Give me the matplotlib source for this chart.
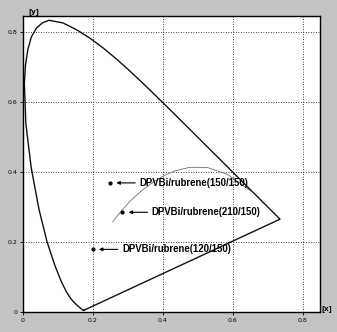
import numpy as np
import matplotlib.pyplot as plt

# CIE 1931 spectral locus (x, y), 380-700 nm (extra points around the green peak)
locus_x = [0.1741, 0.1740, 0.1738, 0.1736, 0.1733, 0.1730, 0.1726, 0.1721, 0.1714, 0.1703,
           0.1689, 0.1669, 0.1644, 0.1611, 0.1566, 0.1510, 0.1440, 0.1355, 0.1241, 0.1096,
           0.0913, 0.0687, 0.0454, 0.0235, 0.0082, 0.0039, 0.0072, 0.0139, 0.0240, 0.0389,
           0.0560, 0.0743, 0.1142,
           0.1547, 0.1929, 0.2296, 0.2658, 0.3016, 0.3373, 0.3731, 0.4087, 0.4441, 0.4788,
           0.5125, 0.5448, 0.5752, 0.6029, 0.6270, 0.6482, 0.6658, 0.6801, 0.6915, 0.7006,
           0.7079, 0.7140, 0.7190, 0.7230, 0.7260, 0.7283, 0.7300, 0.7311, 0.7320, 0.7334,
           0.7344, 0.7347]
locus_y = [0.0050, 0.0050, 0.0049, 0.0049, 0.0048, 0.0048, 0.0048, 0.0048, 0.0051, 0.0058,
           0.0069, 0.0086, 0.0109, 0.0138, 0.0177, 0.0227, 0.0297, 0.0399, 0.0578, 0.0868,
           0.1327, 0.2007, 0.2950, 0.4127, 0.5384, 0.6548, 0.7062, 0.7502, 0.7865, 0.8120,
           0.8268, 0.8338, 0.8262,
           0.8059, 0.7816, 0.7543, 0.7243, 0.6923, 0.6589, 0.6245, 0.5896, 0.5547, 0.5202,
           0.4866, 0.4544, 0.4242, 0.3965, 0.3725, 0.3514, 0.3340, 0.3197, 0.3083, 0.2993,
           0.2920, 0.2859, 0.2809, 0.2770, 0.2740, 0.2717, 0.2700, 0.2689, 0.2680, 0.2666,
           0.2656, 0.2653]

# blackbody locus, 1000 K ... 20000 K
planck_x = [0.6528, 0.5857, 0.5267, 0.4770, 0.4369, 0.4053, 0.3805, 0.3451, 0.3221,
            0.3064, 0.2952, 0.2807, 0.2637, 0.2565]
planck_y = [0.3444, 0.3931, 0.4133, 0.4137, 0.4041, 0.3907, 0.3768, 0.3516, 0.3318,
            0.3166, 0.3048, 0.2883, 0.2671, 0.2573]

# device colour coordinates
labels = ['DPVBi/rubrene(150/150)', 'DPVBi/rubrene(210/150)', 'DPVBi/rubrene(120/150)']
cie_x = [0.249, 0.284, 0.199]
cie_y = [0.369, 0.285, 0.179]

ticks = [0, 0.2, 0.4, 0.6, 0.8]
tick_labels = ['0', '0.2', '0.4', '0.6', '0.8']

fig = plt.figure(figsize=(3.37, 3.32), dpi=100, facecolor='#c4c4c4')
ax = fig.add_axes([0.0682, 0.0602, 0.8813, 0.8916])
ax.set_facecolor('white')

# closed horseshoe
ax.plot(locus_x + [locus_x[0]], locus_y + [locus_y[0]], color='#111111', lw=1.0)
ax.plot(planck_x, planck_y, color='#555555', lw=0.5)

ax.plot(cie_x, cie_y, 'o', color='black', ms=2)
for lab, x, y in zip(labels, cie_x, cie_y):
    ax.annotate('', xy=(x + 0.018, y), xytext=(x + 0.072, y),
                arrowprops=dict(arrowstyle='-|>', color='black', lw=0.8,
                                mutation_scale=5, shrinkA=0, shrinkB=0))
    ax.text(x + 0.084, y, lab, fontsize=6.9, fontweight='bold',
            family='Liberation Sans', va='center', ha='left')

ax.set_xlim(0, 0.849)
ax.set_ylim(0, 0.846)
ax.set_xticks(ticks)
ax.set_yticks(ticks)
ax.set_xticklabels(tick_labels)
ax.set_yticklabels(tick_labels)
ax.tick_params(labelsize=4.5, length=2, width=0.6, pad=2)
ax.grid(True, color='black', ls=(0, (1, 2)), lw=0.6)
for s in ax.spines.values():
    s.set_color('black')
    s.set_linewidth(1.0)

fig.text(0.083, 0.965, '[y]', fontsize=5, fontweight='bold', va='center')
fig.text(0.955, 0.07, '[x]', fontsize=5, fontweight='bold', va='center')

fig.savefig('out.png', dpi=100, facecolor=fig.get_facecolor())
